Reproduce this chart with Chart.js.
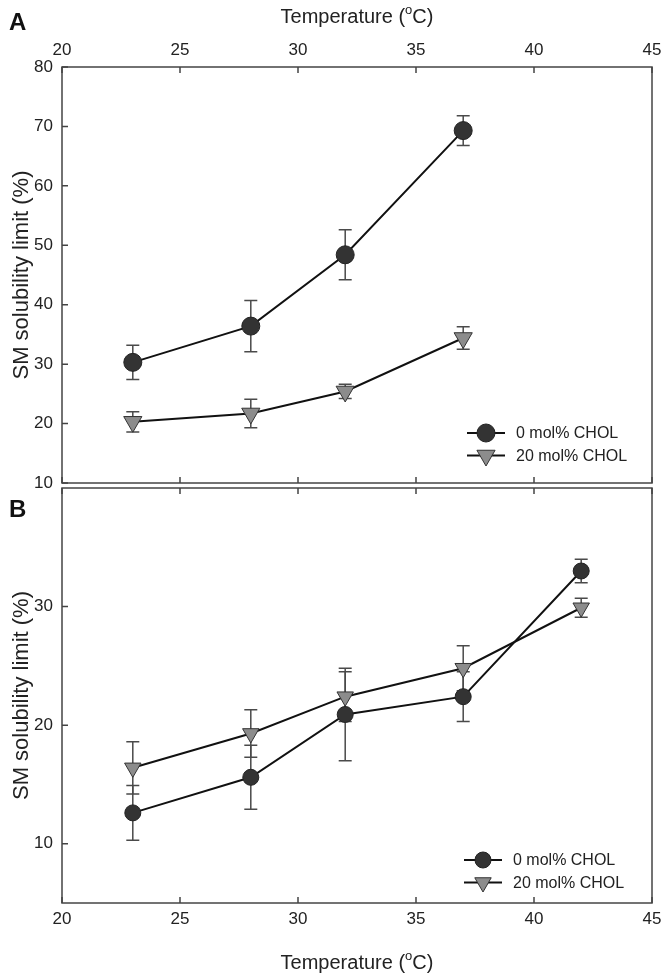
<!DOCTYPE html>
<html>
<head>
<meta charset="utf-8">
<script src="https://cdn.jsdelivr.net/npm/chart.js@4.4.0/dist/chart.umd.min.js"></script>
<style>
  body { margin: 0; background: #fff; width: 661px; height: 976px; position: relative; overflow: hidden; }
  canvas { position: absolute; left: 0; }
  #chartA { top: 0; z-index: 2; }
  #chartB { top: 486px; z-index: 1; }
</style>
</head>
<body>
<canvas id="chartA" width="661" height="500"></canvas>
<canvas id="chartB" width="661" height="490"></canvas>
<script>
// data
const seriesNames = ['0 mol% CHOL', '20 mol% CHOL'];

const tempsA = [23, 28, 32, 37];
const cholA0 = [30.3, 36.4, 48.4, 69.3];
const cholA0Err = [2.9, 4.3, 4.2, 2.5];
const cholA20 = [20.3, 21.7, 25.4, 34.4];
const cholA20Err = [1.7, 2.4, 1.2, 1.9];

const tempsB = [23, 28, 32, 37, 42];
const cholB0 = [12.6, 15.6, 20.9, 22.4, 33.0];
const cholB0Err = [2.3, 2.7, 3.9, 2.1, 1.0];
const cholB20 = [16.4, 19.3, 22.4, 24.8, 29.9];
const cholB20Err = [2.2, 2.0, 2.1, 1.9, 0.8];

const xTicks = [20, 25, 30, 35, 40, 45];
const yTicksA = [10, 20, 30, 40, 50, 60, 70, 80];
const yTicksB = [10, 20, 30];

const FONT = "'Liberation Sans', Arial, sans-serif";
const AXIS = '#444';

function points(xs, ys) {
  return xs.map((x, i) => ({ x: x, y: ys[i] }));
}

const errorBars = {
  id: 'errorBars',
  beforeDatasetsDraw(chart) {
    const ctx = chart.ctx, y = chart.scales.y;
    ctx.save();
    ctx.strokeStyle = '#4a4a4a';
    ctx.lineWidth = 1.5;
    chart.data.datasets.forEach((ds, i) => {
      chart.getDatasetMeta(i).data.forEach((pt, j) => {
        const v = ds.data[j].y, e = ds.errors[j];
        const top = y.getPixelForValue(v + e), bot = y.getPixelForValue(v - e);
        ctx.beginPath();
        ctx.moveTo(pt.x, top); ctx.lineTo(pt.x, bot);
        ctx.moveTo(pt.x - 6.5, top); ctx.lineTo(pt.x + 6.5, top);
        ctx.moveTo(pt.x - 6.5, bot); ctx.lineTo(pt.x + 6.5, bot);
        ctx.stroke();
      });
    });
    ctx.restore();
  }
};

const frame = {
  id: 'frame',
  afterDraw(chart, args, opts) {
    const ctx = chart.ctx, a = chart.chartArea;
    const xs = chart.scales.x, ys = chart.scales.y;
    ctx.save();
    ctx.strokeStyle = AXIS;
    ctx.lineWidth = 1.5;
    ctx.strokeRect(a.left, a.top, a.right - a.left, a.bottom - a.top);
    ctx.beginPath();
    xs.ticks.forEach(t => {
      const px = xs.getPixelForValue(t.value);
      ctx.moveTo(px, a.top); ctx.lineTo(px, a.top + 6);
      ctx.moveTo(px, a.bottom); ctx.lineTo(px, a.bottom - 6);
    });
    ys.ticks.forEach(t => {
      const py = ys.getPixelForValue(t.value);
      ctx.moveTo(a.left, py); ctx.lineTo(a.left + 6, py);
    });
    ctx.stroke();

    // axis titles
    ctx.fillStyle = '#222';
    ctx.textBaseline = 'middle';
    const cx = (a.left + a.right) / 2;
    ctx.font = '20px ' + FONT;
    const p1 = 'Temperature (', p2 = 'C)';
    const w1 = ctx.measureText(p1).width, w3 = ctx.measureText(p2).width;
    ctx.font = '13px ' + FONT;
    const w2 = ctx.measureText('o').width;
    let sx = cx - (w1 + w2 + w3) / 2;
    ctx.font = '20px ' + FONT;
    ctx.textAlign = 'left';
    ctx.fillText(p1, sx, opts.xTitleY);
    ctx.font = '13px ' + FONT;
    ctx.fillText('o', sx + w1, opts.xTitleY - 7);
    ctx.font = '20px ' + FONT;
    ctx.fillText(p2, sx + w1 + w2, opts.xTitleY);

    ctx.save();
    ctx.translate(22, (a.top + a.bottom) / 2);
    ctx.rotate(-Math.PI / 2);
    ctx.textAlign = 'center';
    ctx.font = '22px ' + FONT;
    ctx.fillText('SM solubility limit (%)', 0, 0);
    ctx.restore();

    // panel letter
    ctx.font = 'bold 24px ' + FONT;
    ctx.textAlign = 'left';
    ctx.fillStyle = '#111';
    ctx.fillText(opts.letter, 9, opts.letterY);

    // legend
    ctx.font = '16px ' + FONT;
    chart.data.datasets.forEach((ds, i) => {
      const ly = opts.legendY + i * 22.5;
      ctx.strokeStyle = '#111';
      ctx.lineWidth = 2;
      ctx.beginPath();
      ctx.moveTo(opts.legendX, ly); ctx.lineTo(opts.legendX + 38, ly);
      ctx.stroke();
      ctx.fillStyle = ds.pointBackgroundColor;
      ctx.strokeStyle = ds.pointBorderColor;
      ctx.lineWidth = 1;
      Chart.helpers.drawPoint(ctx, {
        pointStyle: ds.pointStyle, rotation: ds.pointRotation,
        radius: ds.pointRadius, borderWidth: 1
      }, opts.legendX + 19, ly);
      ctx.fillStyle = '#222';
      ctx.fillText(ds.label, opts.legendX + 49, ly + 1);
    });
    ctx.restore();
  }
};

function makePanel(id, xs, s0, e0, s20, e20, yMin, yMax, yTicks, cfg) {
  return new Chart(document.getElementById(id), {
    type: 'line',
    data: {
      datasets: [
        {
          label: seriesNames[0], data: points(xs, s0), errors: e0,
          borderColor: '#111', borderWidth: 2, tension: 0,
          pointStyle: 'circle', pointRadius: cfg.circleR, pointRotation: 0,
          pointBackgroundColor: '#333333', pointBorderColor: '#222', pointBorderWidth: 1
        },
        {
          label: seriesNames[1], data: points(xs, s20), errors: e20,
          borderColor: '#111', borderWidth: 2, tension: 0,
          pointStyle: 'triangle', pointRadius: cfg.triR, pointRotation: 180,
          pointBackgroundColor: '#8c8c8c', pointBorderColor: '#333', pointBorderWidth: 1
        }
      ]
    },
    options: {
      responsive: false,
      animation: false,
      events: [],
      layout: {
        autoPadding: false,
        padding: { top: cfg.padTop, right: 9, bottom: cfg.padBottom, left: 0 }
      },
      plugins: {
        legend: { display: false },
        tooltip: { enabled: false },
        frame: cfg.frame
      },
      scales: {
        x: {
          type: 'linear', position: cfg.xPos, min: 20, max: 45,
          afterBuildTicks: s => { s.ticks = xTicks.map(v => ({ value: v })); },
          afterFit: s => { s.height = cfg.xHeight; s.paddingLeft = 0; s.paddingRight = 0; s.paddingTop = 0; s.paddingBottom = 0; },
          grid: { display: false, drawTicks: false },
          border: { display: false },
          ticks: { font: { family: FONT, size: 17 }, color: '#222', padding: 6, maxRotation: 0 }
        },
        y: {
          type: 'linear', min: yMin, max: yMax,
          afterBuildTicks: s => { s.ticks = yTicks.map(v => ({ value: v })); },
          afterFit: s => { s.width = 62; s.paddingLeft = 0; s.paddingRight = 0; s.paddingTop = 0; s.paddingBottom = 0; },
          grid: { display: false, drawTicks: false },
          border: { display: false },
          ticks: { font: { family: FONT, size: 17 }, color: '#222', padding: 9 }
        }
      }
    },
    plugins: [errorBars, frame]
  });
}

makePanel('chartA', tempsA, cholA0, cholA0Err, cholA20, cholA20Err, 10, 80, yTicksA, {
  circleR: 9, triR: 10.5, padTop: 0, padBottom: 17, xPos: 'top', xHeight: 67,
  frame: { letter: 'A', letterY: 23, xTitleY: 17, legendX: 467, legendY: 433 }
});

makePanel('chartB', tempsB, cholB0, cholB0Err, cholB20, cholB20Err, 5, 40, yTicksB, {
  circleR: 8, triR: 9.5, padTop: 2, padBottom: 0, xPos: 'bottom', xHeight: 73,
  frame: { letter: 'B', letterY: 24, xTitleY: 477, legendX: 464, legendY: 374 }
});
</script>
</body>
</html>
